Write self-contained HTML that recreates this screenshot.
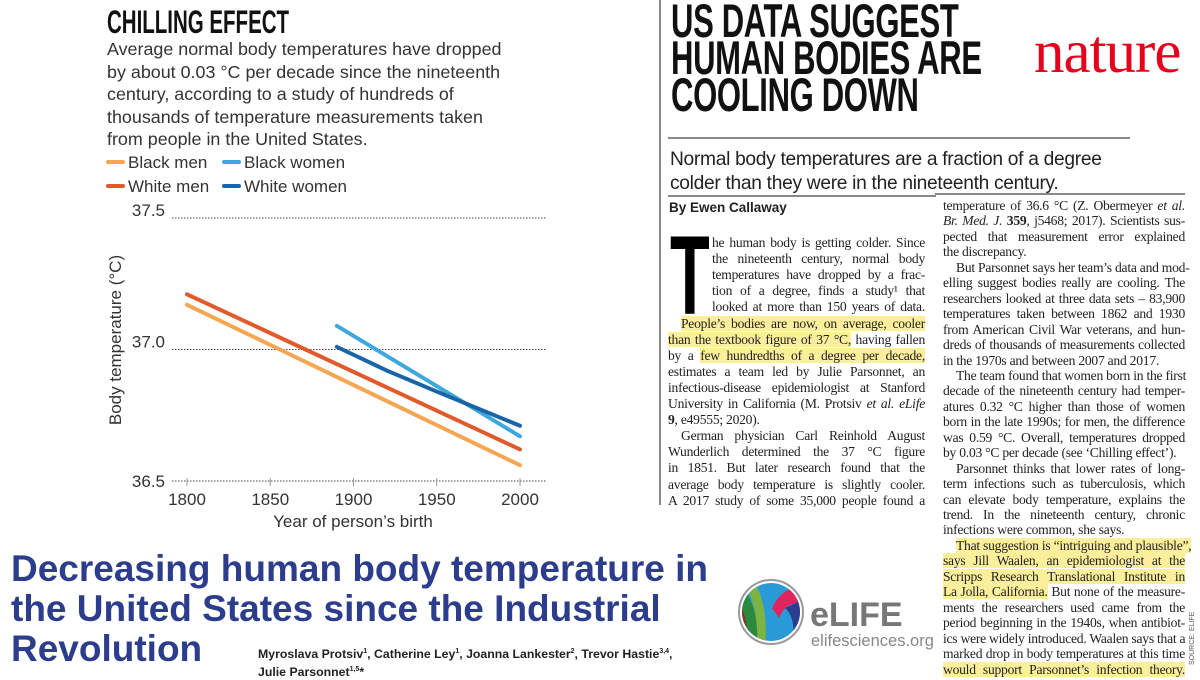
<!DOCTYPE html>
<html><head><meta charset="utf-8">
<style>
body{margin:0;width:1200px;height:677px;background:#fff;position:relative;overflow:hidden;font-family:"Liberation Sans",sans-serif;}
.abs{position:absolute;white-space:nowrap;}
.cond{font-weight:bold;transform-origin:0 0;color:#111;}
.ln{position:absolute;font-family:"Liberation Serif",serif;font-size:13.6px;letter-spacing:-0.25px;color:#222;text-align:justify;text-align-last:justify;white-space:nowrap;height:16px;line-height:16px;}
.hl{background:#fbef9c;}
</style></head><body>

<!-- left chart header -->
<div class="abs cond" style="left:107px;top:4px;font-size:32px;transform:scaleX(0.64);">CHILLING EFFECT</div>
<div class="abs" style="left:107px;top:38px;font-size:17.9px;line-height:22.5px;color:#333;">Average normal body temperatures have dropped<br>by about 0.03 °C per decade since the nineteenth<br>century, according to a study of hundreds of<br>thousands of temperature measurements taken<br>from people in the United States.</div>

<svg id="chart" width="640" height="540" style="position:absolute;left:0;top:0"></svg>

<!-- article -->
<div class="abs" style="left:659px;top:0;width:2px;height:505px;background:#888;"></div>
<div class="abs cond" style="left:671px;top:2px;font-size:47px;line-height:37px;letter-spacing:-0.5px;transform:scaleX(0.66);">US DATA SUGGEST<br>HUMAN BODIES ARE<br>COOLING DOWN</div>
<div class="abs" style="left:1034px;top:18px;font-family:'Liberation Serif',serif;font-size:61px;color:#e5001d;letter-spacing:-1px;">nature</div>
<div class="abs" style="left:668px;top:137px;width:462px;height:1.5px;background:#888;"></div>
<div class="abs" style="left:670px;top:148px;font-size:19.2px;line-height:24px;color:#222;letter-spacing:-0.3px;">Normal body temperatures are a fraction of a degree<br>colder than they were in the nineteenth century.</div>
<div class="abs" style="left:668px;top:195px;width:268px;height:1.5px;background:#888;"></div>
<div class="abs" style="left:935px;top:193px;width:250px;height:1.5px;background:#888;"></div>
<div class="abs" style="left:669px;top:200px;font-size:13.5px;font-weight:bold;color:#222;">By Ewen Callaway</div>
<div class="abs" style="left:670px;top:226px;font-family:'Liberation Sans',sans-serif;font-weight:bold;font-size:112px;line-height:100px;color:#000;transform:scaleX(0.58);transform-origin:0 0;">T</div>

<div id="leftcol"></div>
<div id="rightcol"></div>

<!-- bottom left -->
<div class="abs" style="left:11px;top:549px;font-size:37px;line-height:40px;font-weight:bold;color:#2d3d8e;letter-spacing:0px;">Decreasing human body temperature in<br>the United States since the Industrial<br>Revolution</div>
<div class="abs" style="left:258px;top:644px;font-size:12.3px;line-height:16px;font-weight:bold;color:#222;">Myroslava Protsiv<sup style="font-size:7px">1</sup>, Catherine Ley<sup style="font-size:7px">1</sup>, Joanna Lankester<sup style="font-size:7px">2</sup>, Trevor Hastie<sup style="font-size:7px">3,4</sup>,<br>Julie Parsonnet<sup style="font-size:7px">1,5</sup>*</div>

<svg width="70" height="70" style="position:absolute;left:737px;top:578px">
<defs><clipPath id="cc"><circle cx="34" cy="34" r="29"/></clipPath></defs>
<circle cx="34" cy="34" r="32" fill="#fff" stroke="#999" stroke-width="2"/>
<g clip-path="url(#cc)">
<rect x="0" y="0" width="70" height="70" fill="#2a9ad6"/>
<path d="M0 20 Q15 30 14 70 L0 70Z" fill="#7a3b1e"/>
<path d="M6 10 Q22 30 22 70 L10 70 Q12 35 0 25Z" fill="#2b8a3e"/>
<path d="M18 5 Q32 30 28 70 L20 70 Q22 35 10 10Z" fill="#7cb342"/>
<path d="M35 30 Q45 10 60 10 L62 25 Q48 25 42 40Z" fill="#e0245e"/>
<path d="M48 30 Q60 40 55 70 L70 70 L70 20Z" fill="#2d3d8e"/>
</g></svg>
<div class="abs" style="left:810px;top:596px;font-size:34px;font-weight:bold;color:#777;">eLIFE</div>
<div class="abs" style="left:811px;top:632px;font-size:16.5px;color:#888;">elifesciences.org</div>
<div class="abs" style="left:1189px;top:665px;font-size:7px;color:#555;transform:rotate(-90deg);transform-origin:0 0;">SOURCE: ELIFE</div>

<script>
// ---- chart data ----
const years = [1800, 1850, 1900, 1950, 2000];
const yTicks = [36.5, 37.0, 37.5];
const yTickLabels = ["36.5", "37.0", "37.5"];
const seriesNames = ["Black men", "White men", "Black women", "White women"];
const blackMenYears = [1800, 2000];
const blackMenTemps = [37.17, 36.56];
const whiteMenYears = [1800, 2000];
const whiteMenTemps = [37.21, 36.62];
const blackWomenYears = [1890, 2000];
const blackWomenTemps = [37.09, 36.67];
const whiteWomenYears = [1890, 1920, 1950, 2000];
const whiteWomenTemps = [37.01, 36.92, 36.84, 36.71];

const NS = "http://www.w3.org/2000/svg";
const svg = document.getElementById("chart");
const X = y => 187 + (y - 1800) / 200 * (520 - 187);
const Y = t => 481 - (t - 36.5) / 1.0 * (481 - 218);
function mk(tag, at) { const e = document.createElementNS(NS, tag); for (const k in at) e.setAttribute(k, at[k]); svg.appendChild(e); return e; }

yTicks.forEach((t, i) => {
  const g = mk("line", {x1: 172, x2: 546, y1: Y(t), y2: Y(t), stroke: "#444", "stroke-width": 1, "stroke-dasharray": "1.5,1.5"});
  
  
  const l = mk("text", {x: 165, y: Y(t) - (t === 36.5 ? -6 : 2), "text-anchor": "end", "font-size": 17, fill: "#333", "font-family": "Liberation Sans, sans-serif"});
  l.textContent = yTickLabels[i];
  
  
});
years.forEach(yr => {
  const t = mk("line", {x1: X(yr), x2: X(yr), y1: 478, y2: 486, stroke: "#999", "stroke-width": 1});
  
  
  const l = mk("text", {x: X(yr), y: 505, "text-anchor": "middle", "font-size": 17, fill: "#333", "font-family": "Liberation Sans, sans-serif"});
  l.textContent = yr;
  
  
});
const xt = mk("text", {x: 353, y: 527, "text-anchor": "middle", "font-size": 17, fill: "#333", "font-family": "Liberation Sans, sans-serif"});
xt.textContent = "Year of person’s birth";


const yt = mk("text", {x: 0, y: 0, transform: "translate(121,340) rotate(-90)", "text-anchor": "middle", "font-size": 17, fill: "#333", "font-family": "Liberation Sans, sans-serif"});
yt.textContent = "Body temperature (°C)";



const colors = ["#f4a652", "#e05a2b", "#3ea8dc", "#1a64a8"];
const sx = [blackMenYears, whiteMenYears, blackWomenYears, whiteWomenYears];
const sy = [blackMenTemps, whiteMenTemps, blackWomenTemps, whiteWomenTemps];
const lineNames = ["line-black-men", "line-white-men", "line-black-women", "line-white-women"];
sx.forEach((xs, i) => {
  const pts = xs.map((v, j) => X(v) + "," + Y(sy[i][j])).join(" ");
  const p = mk("polyline", {points: pts, fill: "none", stroke: colors[i], "stroke-width": 4, "stroke-linecap": "round", "stroke-linejoin": "round"});
  
  
});
// legend
const legPos = [[107, 162], [107, 186], [223, 162], [223, 186]];
seriesNames.forEach((n, i) => {
  const [lx, ly] = legPos[i];
  const sw = mk("line", {x1: lx + 1, x2: lx + 16, y1: ly, y2: ly, stroke: colors[i], "stroke-width": 4, "stroke-linecap": "round"});
  
  
  const t = mk("text", {x: lx + 21, y: ly + 6, "font-size": 17, fill: "#333", "font-family": "Liberation Sans, sans-serif"});
  t.textContent = n;
  
  
});

// ---- article text ----
const leftLines = [
 [712,"he human body is getting colder. Since"],
 [712,"the nineteenth century, normal body"],
 [712,"temperatures have dropped by a frac-"],
 [712,"tion of a degree, finds a study¹ that"],
 [712,"looked at more than 150 years of data."],
 [681,"<span class='hl'>People’s bodies are now, on average, cooler</span>"],
 [668,"<span class='hl'>than the textbook figure of 37 °C,</span> having fallen"],
 [668,"by a <span class='hl'>few hundredths of a degree per decade,</span>"],
 [668,"estimates a team led by Julie Parsonnet, an"],
 [668,"infectious-disease epidemiologist at Stanford"],
 [668,"University in California (M. Protsiv <i>et al. eLife</i>"],
 [668,"<b>9</b>, e49555; 2020).", 1],
 [681,"German physician Carl Reinhold August"],
 [668,"Wunderlich determined the 37 °C figure"],
 [668,"in 1851. But later research found that the"],
 [668,"average body temperature is slightly cooler."],
 [668,"A 2017 study of some 35,000 people found a"]
];
const rightLines = [
 [0,"temperature of 36.6 °C (Z. Obermeyer <i>et al.</i>"],
 [0,"<i>Br. Med. J.</i> <b>359</b>, j5468; 2017). Scientists sus-"],
 [0,"pected that measurement error explained"],
 [0,"the discrepancy.",1],
 [13,"But Parsonnet says her team’s data and mod-"],
 [0,"elling suggest bodies really are cooling. The"],
 [0,"researchers looked at three data sets – 83,900"],
 [0,"temperatures taken between 1862 and 1930"],
 [0,"from American Civil War veterans, and hun-"],
 [0,"dreds of thousands of measurements collected"],
 [0,"in the 1970s and between 2007 and 2017.",1],
 [13,"The team found that women born in the first"],
 [0,"decade of the nineteenth century had temper-"],
 [0,"atures 0.32 °C higher than those of women"],
 [0,"born in the late 1990s; for men, the difference"],
 [0,"was 0.59 °C. Overall, temperatures dropped"],
 [0,"by 0.03 °C per decade (see ‘Chilling effect’).",1],
 [13,"Parsonnet thinks that lower rates of long-"],
 [0,"term infections such as tuberculosis, which"],
 [0,"can elevate body temperature, explains the"],
 [0,"trend. In the nineteenth century, chronic"],
 [0,"infections were common, she says.",1],
 [13,"<span class='hl'>That suggestion is “intriguing and plausible”,</span>"],
 [0,"<span class='hl'>says Jill Waalen, an epidemiologist at the</span>"],
 [0,"<span class='hl'>Scripps Research Translational Institute in</span>"],
 [0,"<span class='hl'>La Jolla, California.</span> But none of the measure-"],
 [0,"ments the researchers used came from the"],
 [0,"period beginning in the 1940s, when antibiot-"],
 [0,"ics were widely introduced. Waalen says that a"],
 [0,"marked drop in body temperatures at this time"],
 [0,"<span class='hl'>would support Parsonnet’s infection theory.</span>"]
];
const lc = document.getElementById("leftcol");
leftLines.forEach((l, i) => {
  const d = document.createElement("div");
  d.className = "ln";
  d.style.left = l[0] + "px";
  d.style.width = (925 - l[0]) + "px";
  d.style.top = (235 + i * 16.1) + "px";
  if (l[2]) d.style.textAlignLast = "left";
  d.innerHTML = l[1];
  
  
  lc.appendChild(d);
});
const rc = document.getElementById("rightcol");
rightLines.forEach((l, i) => {
  const d = document.createElement("div");
  d.className = "ln";
  d.style.left = (943 + l[0]) + "px";
  d.style.width = (242 - l[0]) + "px";
  d.style.top = (198 + i * 15.45) + "px";
  if (l[2]) d.style.textAlignLast = "left";
  d.innerHTML = l[1];
  
  
  rc.appendChild(d);
});
</script>
</body></html>
